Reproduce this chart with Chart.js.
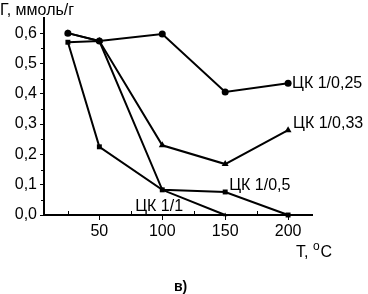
<!DOCTYPE html>
<html><head><meta charset="utf-8">
<script src="https://cdn.jsdelivr.net/npm/chart.js@4/dist/chart.umd.min.js"></script>
<style>html,body{margin:0;padding:0;background:#fff;}canvas{display:block;}</style>
</head><body>
<canvas id="c" width="368" height="294"></canvas>
<script>
const temps = [25, 50, 100, 150, 200];
const ck025 = [0.60, 0.574, 0.597, 0.406, 0.435];
const ck033 = [0.60, 0.574, 0.23, 0.168, 0.28];
const ck05 = [0.57, 0.225, 0.083, 0.076, 0.0];
const ck1 = [0.57, 0.574, 0.083, 0.0];
const seriesNames = ['ЦК 1/0,25', 'ЦК 1/0,33', 'ЦК 1/0,5', 'ЦК 1/1'];
const xTicks = [25, 50, 75, 100, 125, 150, 175, 200];
const yTicks = [0, 0.1, 0.2, 0.3, 0.4, 0.5, 0.6];
const yLabel = 'Г, ммоль/г';
const xLabel = 'T, ';
const panelLabel = 'в)';

const FONT = '"Liberation Sans", Arial, sans-serif';
function pts(ys){ return ys.map((y,i)=>({x:temps[i], y:y})); }

const labelOffsets = [
  {dx:4, dy:0},
  {dx:5, dy:-7},
  {dx:4, dy:-6},
];

const annot = {
  id:'annot',
  afterDatasetsDraw(chart){
    const c = chart.ctx, xs = chart.scales.x, ys = chart.scales.y;
    c.save();
    c.fillStyle = '#000';
    c.font = '16px ' + FONT;
    c.textBaseline = 'middle';
    c.textAlign = 'left';
    const lasts = [ck025, ck033, ck05];
    lasts.forEach((arr,i)=>{
      const n = arr.length-1;
      let ti = i===2 ? 3 : n;
      const px = xs.getPixelForValue(temps[ti]), py = ys.getPixelForValue(arr[ti]);
      c.fillText(seriesNames[i], px + labelOffsets[i].dx, py + labelOffsets[i].dy);
    });
    c.fillText(seriesNames[3], xs.getPixelForValue(100) - 27, ys.getPixelForValue(0) - 8);
    c.strokeStyle = '#000'; c.lineWidth = 1;
    [25,75,125,175].forEach(v=>{
      const px = Math.round(xs.getPixelForValue(v))+0.5, py = ys.getPixelForValue(0);
      c.beginPath(); c.moveTo(px, py); c.lineTo(px, py-4); c.stroke();
    });
    [0.05,0.15,0.25,0.35,0.45,0.55].forEach(v=>{
      const py = Math.round(ys.getPixelForValue(v))+0.5, px = xs.left;
      c.beginPath(); c.moveTo(px, py); c.lineTo(px-3, py); c.stroke();
    });
    c.font = '16px ' + FONT;
    c.textBaseline = 'alphabetic';
    c.fillText(yLabel, 0, 15);
    const tx = 296, ty = 257;
    c.fillText(xLabel, tx, ty);
    const w = c.measureText(xLabel).width;
    c.font = '12px ' + FONT;
    c.fillText('o', tx + w, ty - 7);
    const w2 = c.measureText('o').width;
    c.font = '16px ' + FONT;
    c.fillText('C', tx + w + w2 + 1, ty);
    c.font = 'bold 14px ' + FONT;
    c.fillText(panelLabel, 174, 291);
    c.restore();
  }
};

new Chart(document.getElementById('c'), {
  type:'line',
  data:{ datasets:[
    {label:seriesNames[0], data:pts(ck025), pointStyle:'circle', pointRadius:3.5},
    {label:seriesNames[1], data:pts(ck033), pointStyle:'triangle', pointRadius:4},
    {label:seriesNames[2], data:pts(ck05), pointStyle:'rect', pointRadius:3.5},
    {label:seriesNames[3], data:pts(ck1), pointStyle:'triangle', pointRadius:2.5},
  ].map(d=>Object.assign(d,{borderColor:'#000', backgroundColor:'#000', borderWidth:2, pointBorderWidth:0, pointBackgroundColor:'#000', tension:0, clip:false}))},
  plugins:[annot],
  options:{
    responsive:false, animation:false, devicePixelRatio:1,
    layout:{padding:{left:0, top:18, right:56, bottom:0}},
    plugins:{legend:{display:false}, tooltip:{enabled:false}},
    scales:{
      x:{type:'linear', min:6, max:219,
        afterBuildTicks(s){ s.ticks = xTicks.map(v=>({value:v})); },
        afterFit(s){ s.height = 79; },
        border:{color:'#000', width:2},
        grid:{drawOnChartArea:false, tickLength:5, tickWidth:1,
          tickColor:(ctx)=> (ctx.tick && ctx.tick.value%50===0) ? '#000' : 'rgba(0,0,0,0)'},
        ticks:{color:'#000', font:{family:FONT, size:16}, padding:2, maxRotation:0, autoSkip:false,
          callback:(v)=> v%50===0 ? String(v) : ''}
      },
      y:{type:'linear', min:0, max:0.65,
        afterBuildTicks(s){ s.ticks = yTicks.map(v=>({value:v})); },
        afterFit(s){ s.width = 44; },
        border:{color:'#000', width:2},
        grid:{drawOnChartArea:false, tickLength:4, tickWidth:1, tickColor:'#000'},
        ticks:{color:'#000', font:{family:FONT, size:16}, padding:3,
          callback:(v)=> v.toFixed(1).replace('.', ',')}
      }
    }
  }
});
</script>
</body></html>
